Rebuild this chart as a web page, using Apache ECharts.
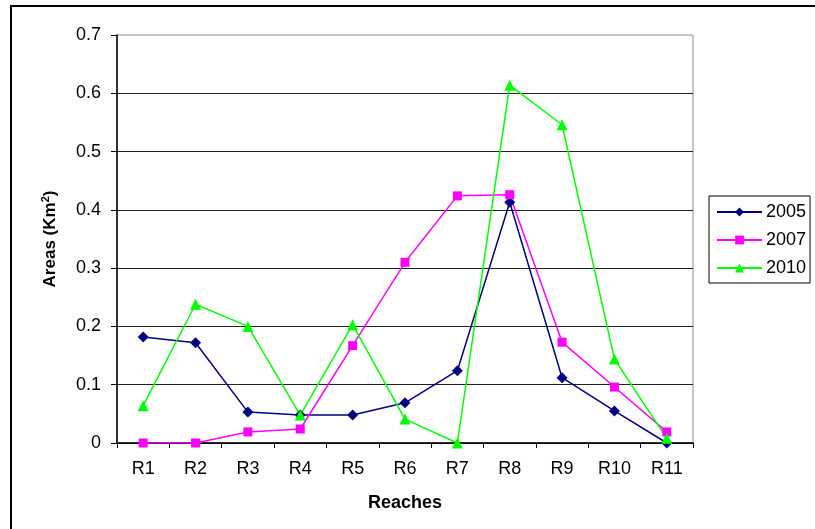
<!DOCTYPE html>
<html>
<head>
<meta charset="utf-8">
<script src="https://cdn.jsdelivr.net/npm/echarts@6/dist/echarts.min.js"></script>
<style>
  html, body { margin: 0; padding: 0; background: #fff; }
  #chart { width: 815px; height: 529px; }
</style>
</head>
<body>
<div id="chart"></div>
<script>
// Reach identifiers along the river
const reaches = ['R1', 'R2', 'R3', 'R4', 'R5', 'R6', 'R7', 'R8', 'R9', 'R10', 'R11'];

// Areas (km²) per reach for each survey year
const areas2005 = [0.182, 0.172, 0.053, 0.048, 0.048, 0.069, 0.124, 0.413, 0.112, 0.055, 0.0];
const areas2007 = [0.0, 0.0, 0.019, 0.024, 0.167, 0.310, 0.424, 0.426, 0.173, 0.096, 0.019];
const areas2010 = [0.064, 0.238, 0.200, 0.048, 0.203, 0.041, 0.0, 0.614, 0.546, 0.144, 0.008];

const yTicks = { min: 0, max: 0.7, step: 0.1 };

const font = '"Liberation Sans", Arial, sans-serif';

const chart = echarts.init(document.getElementById('chart'), null, { renderer: 'canvas' });

function lineSeries(name, data, color, symbol, size) {
  return {
    name: name,
    type: 'line',
    data: data,
    symbol: symbol,
    symbolSize: size,
    showAllSymbol: true,
    lineStyle: { color: color, width: 1.5 },
    itemStyle: { color: color },
    emphasis: { disabled: true },
    animation: false
  };
}

chart.setOption({
  backgroundColor: '#fff',
  animation: false,
  textStyle: { fontFamily: font },
  graphic: [{
    type: 'rect',
    shape: { x: 11, y: 6, width: 900, height: 700 },
    style: { fill: 'none', stroke: '#000', lineWidth: 2 },
    silent: true,
    z: -1
  }],
  grid: {
    left: 117, top: 35, right: 122, bottom: 86,
    show: true,
    borderColor: '#8c8c8c',
    borderWidth: 1,
    backgroundColor: 'transparent'
  },
  legend: {
    orient: 'vertical',
    left: 709,
    top: 196,
    data: ['2005', '2007', '2010'],
    itemWidth: 45,
    itemHeight: 11,
    itemGap: 10,
    padding: [7, 4, 6, 7],
    borderColor: '#000',
    borderWidth: 1,
    textStyle: { fontFamily: font, fontSize: 18, color: '#000', padding: [0, 0, 0, -1] }
  },
  xAxis: {
    type: 'category',
    data: reaches,
    boundaryGap: true,
    name: 'Reaches',
    nameLocation: 'middle',
    nameGap: 51,
    nameTextStyle: { fontFamily: font, fontSize: 18, fontWeight: 'bold', color: '#000' },
    axisLine: { lineStyle: { color: '#000', width: 1.5 } },
    axisTick: { show: true, alignWithLabel: false, length: 5, lineStyle: { color: '#000' } },
    axisLabel: { fontFamily: font, fontSize: 18, color: '#000', margin: 17 },
    splitLine: { show: false }
  },
  yAxis: {
    type: 'value',
    min: yTicks.min,
    max: yTicks.max,
    interval: yTicks.step,
    name: 'Areas (Km{sup|2})',
    nameLocation: 'middle',
    nameGap: 57,
    nameRotate: 90,
    nameTextStyle: {
      fontFamily: font, fontSize: 17, fontWeight: 'bold', color: '#000',
      rich: {
        sup: { fontFamily: font, fontSize: 11, fontWeight: 'bold', color: '#000', verticalAlign: 'top', padding: [0, 0, 9, 0] }
      }
    },
    axisLine: { show: true, lineStyle: { color: '#000', width: 1.5 } },
    axisTick: { show: true, length: 6, lineStyle: { color: '#000' } },
    axisLabel: { fontFamily: font, fontSize: 18, color: '#000', margin: 16 },
    splitLine: { show: true, showMaxLine: false, lineStyle: { color: '#222', width: 1 } }
  },
  series: [
    lineSeries('2005', areas2005, '#000080', 'diamond', 11),
    lineSeries('2007', areas2007, '#ff00ff', 'rect', 9),
    lineSeries('2010', areas2010, '#00ff00', 'triangle', 11)
  ]
});
</script>
</body>
</html>
